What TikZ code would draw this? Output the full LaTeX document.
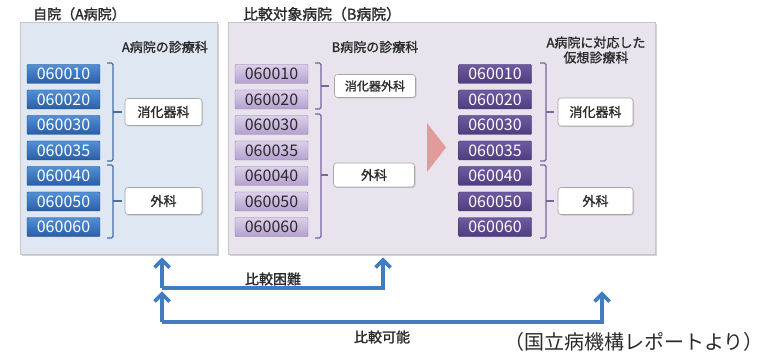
\documentclass[tikz,border=0pt]{standalone}
\usepackage{fontspec}
\setmainfont{Noto Sans CJK JP}
\newfontfamily\jpbold{Noto Sans CJK JP}[FakeBold=1.5]
\usetikzlibrary{arrows.meta,shadows}
\definecolor{panelA}{HTML}{DEE7F2}
\definecolor{panelB}{HTML}{E8E3ED}
\definecolor{codeAtop}{HTML}{5290D6}
\definecolor{codeAbot}{HTML}{2A5EA6}
\definecolor{codeBtop}{HTML}{DCD0EA}
\definecolor{codeBbot}{HTML}{B3A0CF}
\definecolor{codeCtop}{HTML}{6E5AA0}
\definecolor{codeCbot}{HTML}{4E3C80}
\definecolor{brA}{HTML}{4A6DA8}
\definecolor{brB}{HTML}{7666A2}
\definecolor{arrowblue}{HTML}{3F7CC0}
\definecolor{pinktri}{HTML}{E39A9A}
\definecolor{txt}{HTML}{2A2A2A}
\newcommand\mychev[1]{\draw[chev] ([shift={(-7.5,7.5)}]#1) -- (#1) -- ([shift={(7.5,7.5)}]#1);}
\begin{document}
\begin{tikzpicture}[x=1pt,y=-1pt,
  panel/.style={draw=gray!45,line width=0.8pt,drop shadow={shadow xshift=1.5pt,shadow yshift=-1.5pt,opacity=0.35}},
  codeA/.style={minimum width=73pt,minimum height=19pt,inner sep=0pt,rounded corners=1pt,
     top color=codeAtop,bottom color=codeAbot,draw=codeAbot!80!black,line width=0.4pt,text=white,font=\fontsize{16}{16}\selectfont},
  codeB/.style={codeA,top color=codeBtop,bottom color=codeBbot,draw=codeBbot!80!black,text=txt},
  codeC/.style={codeA,top color=codeCtop,bottom color=codeCbot,draw=codeCbot!80!black,text=white},
  labbox/.style={draw=gray!70,fill=white,rounded corners=3pt,line width=0.6pt,inner sep=0pt,
     minimum width=77pt,minimum height=27pt,font=\jpbold\fontsize{13}{13}\selectfont,text=txt,
     drop shadow={shadow xshift=1pt,shadow yshift=-1pt,opacity=0.3}},
  brack/.style={line width=1.3pt},
  head/.style={font=\jpbold\fontsize{13}{15}\selectfont,text=txt,inner sep=0pt},
  title/.style={font=\jpbold\fontsize{14}{14}\selectfont,text=txt,inner sep=0pt,anchor=west},
  cmp/.style={arrowblue,line width=3.6pt},
  chev/.style={arrowblue,line width=3.6pt,line join=miter,line cap=butt},
]
\useasboundingbox (0,0) rectangle (767,363);
% panels
\node[panel,fill=panelA,minimum width=197pt,minimum height=232pt,inner sep=0pt,anchor=north west] (pA) at (20,22) {};
\node[panel,fill=panelB,minimum width=427pt,minimum height=232pt,inner sep=0pt,anchor=north west] (pB) at (228,22) {};
% titles
\node[title] (tA) at (33,14) {自院（A病院）};
\node[title,font=\jpbold\fontsize{14.8}{14}\selectfont] (tB) at (243,14) {比較対象病院（B病院）};
% headers
\node[head,anchor=east] (hA) at (208,47) {A病院の診療科};
\node[head] (hB) at (375,47) {B病院の診療科};
\node[head,align=center] (hC) at (596,50) {A病院に対応した\\仮想診療科};
% codes
\foreach \c [count=\i] in {060010,060020,060030,060035,060040,060050,060060}{
  \pgfmathsetmacro{\yy}{74+25.5*(\i-1)}
  \node[codeA] (a\i) at (63.5,\yy) {\c};
  \node[codeB] (b\i) at (271.5,\yy) {\c};
  \node[codeC] (c\i) at (495,\yy) {\c};
}
% labels
\node[labbox] (la1) at (163.5,112) {消化器科};
\node[labbox] (la2) at (163.5,201) {外科};
\node[labbox,minimum width=81pt,minimum height=23pt,font=\jpbold\fontsize{12}{12}\selectfont] (lb1) at (375,86) {消化器外科};
\node[labbox,minimum width=81pt,minimum height=24pt] (lb2) at (374,175) {外科};
\node[labbox,minimum width=75pt,minimum height=28pt] (lc1) at (595.5,112) {消化器科};
\node[labbox,minimum width=75pt] (lc2) at (595.5,201) {外科};
% brackets A
\draw[brack,brA,rounded corners=1.5pt] (107,63) -- (113,63) -- (113,161) -- (107,161);
\draw[brack,brA] (113,112) -- ([xshift=-3pt]la1.west);
\draw[brack,brA,rounded corners=1.5pt] (107,165) -- (113,165) -- (113,238) -- (107,238);
\draw[brack,brA] (113,201) -- ([xshift=-3pt]la2.west);
% brackets B
\draw[brack,brB,rounded corners=1.5pt] (315,63) -- (321,63) -- (321,109) -- (315,109);
\draw[brack,brB] (321,86) -- ([xshift=-5pt]lb1.west);
\draw[brack,brB,rounded corners=1.5pt] (315,114) -- (321,114) -- (321,238) -- (315,238);
\draw[brack,brB] (321,175) -- ([xshift=-5pt]lb2.west);
% brackets C
\draw[brack,brB,rounded corners=1.5pt] (540,63) -- (546,63) -- (546,161) -- (540,161);
\draw[brack,brB] (546,112) -- ([xshift=-4pt]lc1.west);
\draw[brack,brB,rounded corners=1.5pt] (540,165) -- (546,165) -- (546,238) -- (540,238);
\draw[brack,brB] (546,201) -- ([xshift=-4pt]lc2.west);
% pink triangle
\fill[pinktri] (427,123) -- (446,147.5) -- (427,172) -- cycle;
% comparison arrows
\coordinate (j1) at (162,288);
\coordinate (j2) at (162,322);
\coordinate (tA1) at (162,260);
\coordinate (tA2) at (162,294);
\coordinate (tB1) at (383,260);
\coordinate (tC1) at (602,294);
\draw[cmp] (j1) -- (tA1);
\draw[cmp] (j1) -- (383,288) -- (tB1);
\draw[cmp] (j2) -- (tA2);
\draw[cmp] (j2) -- (602,322) -- (tC1);
\mychev{tA1}
\mychev{tA2}
\mychev{tB1}
\mychev{tC1}
\node[head,font=\jpbold\fontsize{14}{14}\selectfont] (l1) at (273,279) {比較困難};
\node[head,font=\jpbold\fontsize{14}{14}\selectfont] (l2) at (382,337) {比較可能};
% source
\node[font=\fontsize{20}{20}\selectfont,text=txt,inner sep=0pt] (src) at (634,342) {（国立病機構レポートより）};
\end{tikzpicture}
\end{document}
